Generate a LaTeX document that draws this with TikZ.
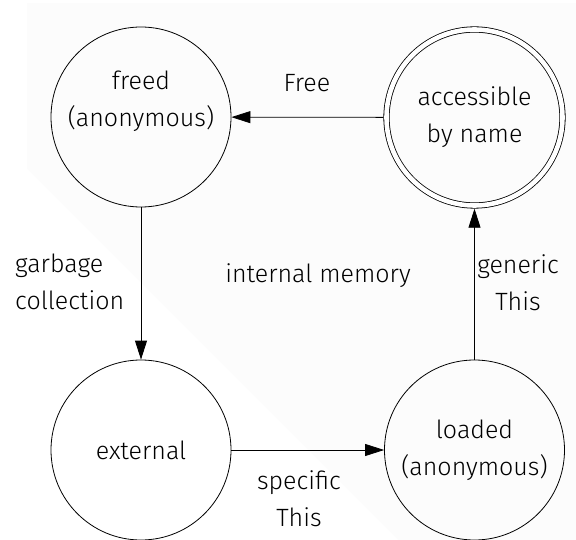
\documentclass[tikz,border=0pt]{standalone}
\usepackage{fontspec}
\setmainfont{Fira Sans}[UprightFont={* Light}]
\usetikzlibrary{arrows.meta}
\begin{document}
\begin{tikzpicture}[x=1pt,y=-1pt,
  state/.style={draw, circle, line width=0.8pt, minimum size=180pt, inner sep=0pt, align=center},
  dstate/.style={draw, circle, line width=0.8pt, double, double distance=4.6pt, minimum size=176pt, inner sep=0pt, outer sep=3.2pt, align=center},
  txt/.style={font=\fontsize{25}{37}\selectfont, align=center, inner sep=0pt},
  edge/.style={line width=0.8pt, -{Triangle[length=19pt,width=12pt]}}]
\useasboundingbox (0,0) rectangle (576,540);
\fill[black!1.2] (27,3) -- (576,3) -- (576,540) -- (398,540) -- (27,169) -- cycle;
\node[state] (freed) at (141,117) {};
\node[txt] (freedtxt) at (141,101) {freed\\(anonymous)};
\node[dstate, txt] (acc) at (474.5,117.5) {accessible\\by name};
\node[state, txt] (ext) at (141,450) {external};
\node[state, txt] (load) at (474.5,450) {loaded\\(anonymous)};
\draw[edge] (acc) -- (freed);
\draw[edge] (freed) -- (ext);
\draw[edge] (ext) -- (load);
\draw[edge] (load) -- (acc);
\node[txt] (lfree) at (307,83) {Free};
\node[txt, anchor=west, align=left] (lgc) at (15,282) {garbage\\collection};
\node[txt] (lint) at (318,276) {internal memory};
\node[txt] (lgen) at (518,283) {generic\\This};
\node[txt] (lspec) at (299,499) {specific\\This};
\end{tikzpicture}
\end{document}
